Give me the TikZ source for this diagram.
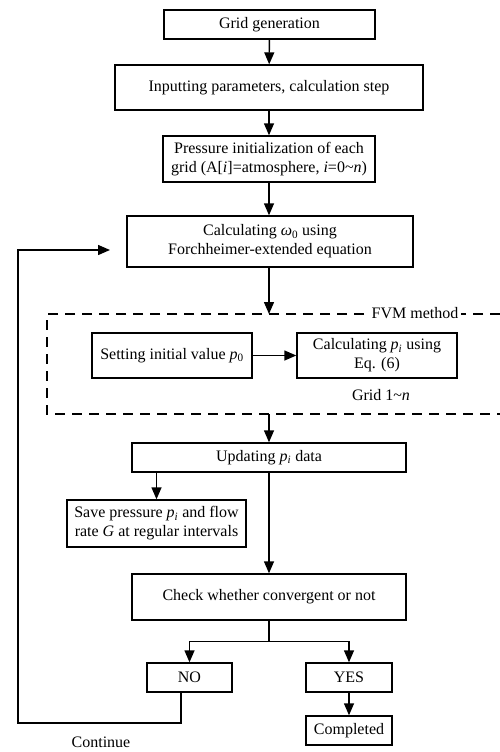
\documentclass[tikz,border=0pt]{standalone}
\usepackage{fontspec}
\setmainfont{Liberation Serif}
\usetikzlibrary{arrows.meta,calc}
\begin{document}
\begin{tikzpicture}[x=1pt,y=-1pt,
  every node/.style={font=\fontsize{16}{19}\selectfont},
  box/.style={draw,line width=1.4pt,inner sep=0pt,align=center},
  arr/.style={line width=1.4pt,-{Triangle[length=12pt,width=10pt]}},
  dashedbox/.style={line width=1.4pt,dash pattern=on 10pt off 7pt}]
\useasboundingbox (0,0) rectangle (500,752);
\node[box,minimum width=211pt,minimum height=29pt] (grid) at (269.5,24.5) {Grid generation};
\node[box,minimum width=308pt,minimum height=45pt] (input) at (269,87.5) {Inputting parameters, calculation step};
\node[box,minimum width=212pt,minimum height=46pt] (pinit) at (269,159) {Pressure initialization of each\\grid (A[\textit{i}]=atmosphere, \textit{i}=0\textasciitilde\textit{n})};
\node[box,minimum width=286pt,minimum height=51pt] (calc) at (270,241.5) {Calculating \textit{ω}\textsubscript{0} using\\Forchheimer-extended equation};
\node[box,minimum width=160pt,minimum height=45pt] (setp) at (172,355.5) {Setting initial value \textit{p}\textsubscript{0}};
\node[box,minimum width=160pt,minimum height=45pt] (calcp) at (377,355.5) {Calculating \textit{p}\textsubscript{\textit{i}} using\\Eq. (6)};
\node[box,minimum width=274pt,minimum height=29pt] (upd) at (269,457.5) {Updating \textit{p}\textsubscript{\textit{i}} data};
\node[box,minimum width=179pt,minimum height=47pt] (save) at (156.5,523.5) {Save pressure \textit{p}\textsubscript{\textit{i}} and flow\\rate \textit{G} at regular intervals};
\node[box,minimum width=274pt,minimum height=46pt] (check) at (269,597) {Check whether convergent or not};
\node[box,minimum width=85pt,minimum height=29pt] (no) at (189.5,677.5) {NO};
\node[box,minimum width=86pt,minimum height=29pt] (yes) at (349,677.5) {YES};
\node[box,minimum width=86pt,minimum height=29pt] (done) at (349,730.5) {Completed};
% dashed FVM region
\draw[dashedbox] (500,314) -- (47,314) -- (47,414) -- (500,414);
\node[fill=white,inner sep=3pt] (fvm) at (415,313) {FVM method};
\node (gridn) at (381,395) {Grid 1\textasciitilde\textit{n}};
\node (cont) at (101,742) {Continue};
\coordinate (fvmtop) at (269,314);
\coordinate (fvmbot) at (269,414);
\coordinate (loopend) at (110,250);
\coordinate (loopcorner) at (18,723);
% connectors
\draw[arr] (grid) -- (input);
\draw[arr] (input) -- (pinit);
\draw[arr] (pinit.south) -- (pinit.south |- calc.north);
\draw[arr] (calc.south -| fvmtop) -- (fvmtop);
\draw[arr] (setp) -- (calcp);
\draw[arr] (fvmbot) -- (fvmbot |- upd.north);
\draw[arr] (save.north |- upd.south) -- (save.north);
\draw[arr] (upd.south) -- (check.north);
\draw[arr] (check.south) -- ++(0,21) -| (no.north);
\draw[arr] (check.south) -- ++(0,21) -| (yes.north);
\draw[arr] (yes) -- (done);
\draw[arr] ([xshift=-8.5pt]no.south) |- (loopcorner) |- (loopend);
\end{tikzpicture}
\end{document}
